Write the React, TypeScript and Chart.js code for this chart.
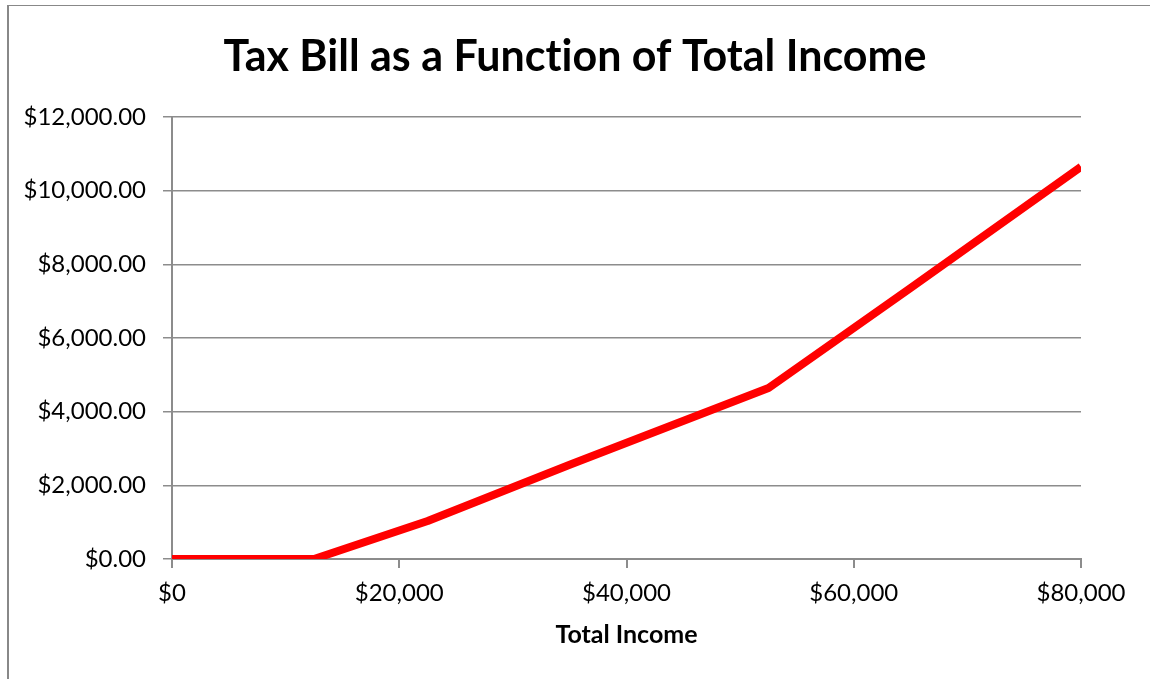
import React, { useEffect, useRef } from "react";
import { Chart, registerables } from "chart.js";

Chart.register(...registerables);

const chartTitle = "Tax Bill as a Function of Total Income";
const xAxisTitle = "Total Income";
const incomes = [0, 10000, 12500, 22500, 35000, 52500, 65000, 80000];
const taxes = [0, 0, 0, 1030, 2560, 4640, 7360, 10650];
const xTicks = [0, 20000, 40000, 60000, 80000];
const yTicks = [0, 2000, 4000, 6000, 8000, 10000, 12000];

const fmtY = (v: number) =>
  "$" + v.toLocaleString("en-US", { minimumFractionDigits: 2, maximumFractionDigits: 2 });
const fmtX = (v: number) => "$" + v.toLocaleString("en-US");

const noLigatures = {
  id: "noLigatures",
  beforeDraw(chart: any) {
    const ctx = chart.ctx as any;
    try {
      ctx.textRendering = "optimizeSpeed";
    } catch (e) {}
  },
};

export default function App() {
  const ref = useRef<HTMLCanvasElement | null>(null);

  useEffect(() => {
    if (!ref.current) return;
    Chart.defaults.font.family = "Lato, 'Open Sans', sans-serif";
    const chart = new Chart(ref.current, {
      type: "line",
      data: {
        datasets: [
          {
            data: incomes.map((x, i) => ({ x, y: taxes[i] })),
            borderColor: "#ff0000",
            backgroundColor: "#ff0000",
            borderWidth: 8,
            pointRadius: 0,
            tension: 0,
            borderJoinStyle: "round",
            borderCapStyle: "butt",
          },
        ],
      },
      plugins: [noLigatures],
      options: {
        animation: false,
        responsive: false,
        maintainAspectRatio: false,
        layout: { padding: { left: 0, right: 0, top: 0, bottom: 0 } },
        plugins: {
          legend: { display: false },
          tooltip: { enabled: false },
          title: {
            display: true,
            text: chartTitle,
            color: "#000",
            font: { size: 43, weight: "bold", family: "Lato" },
            padding: { top: 31, bottom: 34.4 },
          },
        },
        scales: {
          x: {
            type: "linear",
            min: xTicks[0],
            max: xTicks[xTicks.length - 1],
            afterBuildTicks: (s: any) => {
              s.ticks = xTicks.map((v) => ({ value: v }));
            },
            afterFit: (s: any) => {
              s.height = 120;
            },
            ticks: {
              color: "#000",
              font: { size: 24 },
              padding: 11,
              maxRotation: 0,
              callback: (v: any) => fmtX(Number(v)),
            },
            grid: {
              drawOnChartArea: false,
              drawTicks: true,
              tickLength: 9,
              color: "#8c8c8c",
              lineWidth: 2,
            },
            border: { display: true, color: "#8c8c8c", width: 2 },
            title: {
              display: true,
              text: xAxisTitle,
              color: "#000",
              font: { size: 25, weight: "bold" },
              padding: { top: 0, bottom: 29.5 },
            },
          },
          y: {
            type: "linear",
            position: "left",
            min: yTicks[0],
            max: yTicks[yTicks.length - 1],
            afterBuildTicks: (s: any) => {
              s.ticks = yTicks.map((v) => ({ value: v }));
            },
            afterFit: (s: any) => {
              s.width = 172;
            },
            ticks: {
              color: "#000",
              font: { size: 24 },
              padding: 17,
              callback: (v: any) => fmtY(Number(v)),
            },
            grid: {
              drawOnChartArea: true,
              drawTicks: true,
              tickLength: 9,
              color: "#8c8c8c",
              lineWidth: 1.5,
            },
            border: { display: true, color: "#8c8c8c", width: 2 },
          },
          yRight: {
            type: "linear",
            position: "right",
            display: true,
            min: yTicks[0],
            max: yTicks[yTicks.length - 1],
            afterFit: (s: any) => {
              s.width = 69;
            },
            ticks: { display: false },
            grid: { display: false, drawTicks: false },
            border: { display: false },
          },
        },
      },
    } as any);
    return () => chart.destroy();
  }, []);

  return (
    <div style={{ position: "fixed", left: 0, top: 0, width: 1150, height: 679, background: "#fff", overflow: "hidden" }}>
      <div
        style={{
          position: "absolute",
          left: 7,
          top: 5,
          width: 1200,
          height: 700,
          borderLeft: "2px solid #888",
          borderTop: "1.5px solid #888",
        }}
      />
      <canvas
        ref={ref}
        width={1150}
        height={679}
        style={{ position: "absolute", left: 0, top: 0, width: 1150, height: 679 }}
      />
    </div>
  );
}
